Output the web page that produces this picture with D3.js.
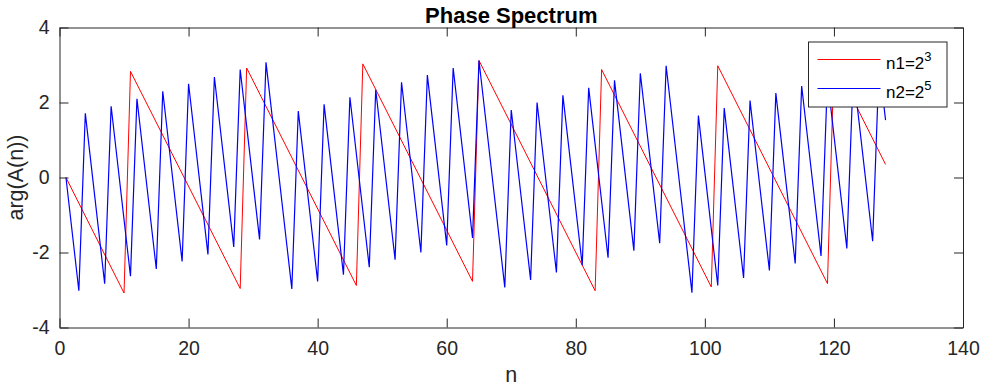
<!DOCTYPE html>
<html>
<head>
<meta charset="utf-8">
<script src="https://cdn.jsdelivr.net/npm/d3@7"></script>
<style>
  body { margin: 0; background: #fff; }
  svg { display: block; font-family: "Liberation Sans", Arial, Helvetica, sans-serif; }
</style>
</head>
<body>
<div id="chart"></div>
<script>
// chart values (vertices of each zigzag)
const RED_N = [1, 10, 11, 28, 29, 46, 47, 64, 65, 83, 84, 101, 102, 119, 120, 128];
const RED_PHASE = [0, -3.08, 2.83, -2.96, 2.92, -2.88, 3.03, -2.77, 3.12, -3.02, 2.88, -2.92, 2.98, -2.83, 3.09, 0.35];

const BLUE_N = [1, 3, 4, 7, 8, 11, 12, 15, 16, 19, 20, 23, 24, 27, 28, 31, 32, 36, 37, 40,
                41, 44, 45, 48, 49, 52, 53, 56, 57, 60, 61, 64, 65, 69, 70, 73, 74, 77, 78, 81,
                82, 85, 86, 89, 90, 93, 94, 98, 99, 102, 103, 106, 107, 110, 111, 114, 115, 118, 119, 122,
                123, 126, 127, 128];
const BLUE_PHASE = [0, -3.02, 1.71, -2.83, 1.90, -2.63, 2.10, -2.44, 2.30, -2.24, 2.50, -2.05, 2.68, -1.85, 2.88, -1.65, 3.07, -2.97, 1.77, -2.77,
                    1.95, -2.59, 2.14, -2.39, 2.34, -2.19, 2.54, -2.00, 2.73, -1.81, 2.92, -1.61, 3.12, -2.93, 1.80, -2.73, 2.00, -2.53, 2.19, -2.34,
                    2.39, -2.14, 2.59, -1.95, 2.78, -1.75, 2.98, -3.07, 1.65, -2.88, 1.85, -2.68, 2.05, -2.48, 2.25, -2.29, 2.44, -2.09, 2.64, -1.89,
                    2.83, -1.70, 3.03, 1.53];

const X_TICKS = [0, 20, 40, 60, 80, 100, 120, 140];
const Y_TICKS = [-4, -2, 0, 2, 4];

const LEGEND_LABELS = [{base: 'n1=2', sup: '3', color: '#ff0000'},
                       {base: 'n2=2', sup: '5', color: '#0000ff'}];

// declaring frame
const FRAME_HEIGHT = 386;
const FRAME_WIDTH = 982;
const MARGINS = {left: 59.5,
                right: 19,
                top: 27.5,
                bottom: 58.5};

const VIS_HEIGHT = FRAME_HEIGHT - MARGINS.top - MARGINS.bottom;
const VIS_WIDTH = FRAME_WIDTH - MARGINS.left - MARGINS.right;
const AXIS_COLOR = '#262626';
const TICK_LEN = 9;

const FRAME = d3.select('#chart')
                .append('svg')
                    .attr('height', FRAME_HEIGHT)
                    .attr('width', FRAME_WIDTH);

FRAME.append('rect')
    .attr('width', FRAME_WIDTH)
    .attr('height', FRAME_HEIGHT)
    .attr('fill', '#fff');

// scaling functions
const X_SCALE = d3.scaleLinear()
    .domain([0, 140])
    .range([0, VIS_WIDTH]);

const Y_SCALE = d3.scaleLinear()
    .domain([-4, 4])
    .range([VIS_HEIGHT, 0]);

const PLOT = FRAME.append('g')
    .attr('transform', 'translate(' + MARGINS.left + ',' + MARGINS.top + ')');

// line generator
const LINE = d3.line()
    .x(d => X_SCALE(d[0]))
    .y(d => Y_SCALE(d[1]));

// red series
PLOT.append('path')
    .datum(RED_N.map((n, i) => [n, RED_PHASE[i]]))
    .attr('d', LINE)
    .attr('fill', 'none')
    .attr('stroke', '#ff0000')
    .attr('stroke-width', 1);

// blue series
PLOT.append('path')
    .datum(BLUE_N.map((n, i) => [n, BLUE_PHASE[i]]))
    .attr('d', LINE)
    .attr('fill', 'none')
    .attr('stroke', '#0000ff')
    .attr('stroke-width', 1.2);

// plain hyphen minus like matlab
const TICK_FORMAT = d => String(d);

// styles an axis group like matlab
function styleAxis(g) {
    g.attr('font-family', null)
     .attr('font-size', '19.5px');
    g.selectAll('.domain').attr('stroke', AXIS_COLOR);
    g.selectAll('.tick line').attr('stroke', AXIS_COLOR);
    g.selectAll('.tick text').attr('fill', AXIS_COLOR);
}

// add x axis (bottom with labels, top ticks only)
PLOT.append('g')
    .attr('transform', 'translate(0,' + VIS_HEIGHT + ')')
    .call(d3.axisBottom(X_SCALE).tickValues(X_TICKS).tickFormat(TICK_FORMAT).tickSizeInner(-TICK_LEN).tickSizeOuter(0).tickPadding(14))
    .call(styleAxis);

PLOT.append('g')
    .call(d3.axisTop(X_SCALE).tickValues(X_TICKS).tickSizeInner(-TICK_LEN).tickSizeOuter(0).tickFormat(''))
    .call(styleAxis);

// add y axis (left with labels, right ticks only)
PLOT.append('g')
    .call(d3.axisLeft(Y_SCALE).tickValues(Y_TICKS).tickFormat(TICK_FORMAT).tickSizeInner(-TICK_LEN).tickSizeOuter(0).tickPadding(10))
    .call(styleAxis);

PLOT.append('g')
    .attr('transform', 'translate(' + VIS_WIDTH + ',0)')
    .call(d3.axisRight(Y_SCALE).tickValues(Y_TICKS).tickSizeInner(-TICK_LEN).tickSizeOuter(0).tickFormat(''))
    .call(styleAxis);

// title and axis labels
FRAME.append('text')
    .attr('x', MARGINS.left + VIS_WIDTH / 2)
    .attr('y', 22.5)
    .attr('text-anchor', 'middle')
    .attr('font-weight', 'bold')
    .attr('font-size', '22px')
    .attr('fill', '#000')
    .text('Phase Spectrum');

FRAME.append('text')
    .attr('x', MARGINS.left + VIS_WIDTH / 2)
    .attr('y', 382)
    .attr('text-anchor', 'middle')
    .attr('font-size', '21.5px')
    .attr('fill', AXIS_COLOR)
    .text('n');

FRAME.append('text')
    .attr('transform', 'translate(23,' + (MARGINS.top + VIS_HEIGHT / 2) + ') rotate(-90)')
    .attr('text-anchor', 'middle')
    .attr('font-size', '21.5px')
    .attr('fill', AXIS_COLOR)
    .text('arg(A(n))');

// legend
const LEGEND = FRAME.append('g')
    .attr('transform', 'translate(808.5,42)');

LEGEND.append('rect')
    .attr('width', 138.5)
    .attr('height', 65)
    .attr('fill', '#fff')
    .attr('stroke', AXIS_COLOR)
    .attr('stroke-width', 1);

LEGEND_LABELS.forEach((d, i) => {
    const y = 17.5 + i * 29;
    LEGEND.append('line')
        .attr('x1', 9)
        .attr('x2', 72)
        .attr('y1', y)
        .attr('y2', y)
        .attr('stroke', d.color)
        .attr('stroke-width', 1);

    const label = LEGEND.append('text')
        .attr('x', 77.5)
        .attr('y', y + 9)
        .attr('font-size', '17px')
        .attr('fill', '#000');
    label.append('tspan').text(d.base);
    label.append('tspan')
        .attr('dy', -7.5)
        .attr('font-size', '13px')
        .text(d.sup);
});
</script>
</body>
</html>
